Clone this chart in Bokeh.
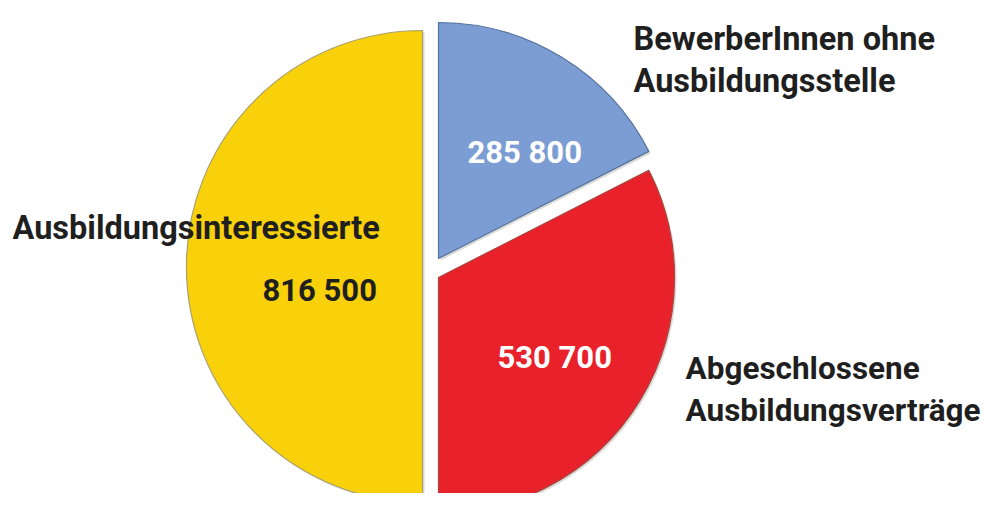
import math
from bokeh.plotting import figure
from bokeh.models import Range1d
from bokeh.core.properties import value
from bokeh.embed import file_html
from bokeh.resources import INLINE

# ---- data ----
categories = ["BewerberInnen ohne Ausbildungsstelle",
              "Abgeschlossene Ausbildungsverträge",
              "Ausbildungsinteressierte"]
values = [285800, 530700, 816500]
colors = ["#7B9DD3", "#E8212B", "#F8D10B"]
edge_colors = ["#55739f", "#a8453f", "#a9a070"]

# ---- geometry (reference pixel space, y up) ----
W, H = 985, 493
H_REF = 509
def Y(ref_y):
    return H_REF - ref_y

R = 236
centers = [(438, Y(258)), (438, Y(277)), (422, Y(266))]

total = sum(values)
angles = []
a = math.pi / 2
for v in values:
    span = 2 * math.pi * v / total
    angles.append((a - span, a))
    a -= span

p = figure(width=W, height=H, output_backend="svg", toolbar_location=None,
           x_range=Range1d(0, W), y_range=Range1d(H_REF - H, H_REF),
           min_border=0)
p.axis.visible = False
p.grid.visible = False
p.outline_line_color = None
p.background_fill_color = "white"
p.border_fill_color = "white"

for (cx, cy), (s, e), col, ec in zip(centers, angles, colors, edge_colors):
    p.wedge(x=[cx + 2], y=[cy - 2], radius=R, start_angle=s, end_angle=e,
            fill_color="#b0b0a8", fill_alpha=0.45, line_color=None)
    p.wedge(x=[cx], y=[cy], radius=R, start_angle=s, end_angle=e,
            fill_color=col, line_color=ec, line_width=1.2)

def fmt(v):
    return f"{v:,}".replace(",", " ")

FONT = value("Roboto")

# category labels (left x, baseline y in reference pixels, font size)
label_lines = [["BewerberInnen ohne", "Ausbildungsstelle"],
               ["Abgeschlossene", "Ausbildungsverträge"],
               ["Ausbildungsinteressierte"]]
label_pos = [(633, [38, 80], "32.5px"), (685, [368, 410], "31.5px"), (12, [227], "32.5px")]
for lines, (lx, bys, fs) in zip(label_lines, label_pos):
    for t, by in zip(lines, bys):
        p.text(x=[lx], y=[Y(by)], text=[t], text_font=FONT, text_font_size=fs,
               text_font_style="bold", text_color="#1f1f1f",
               text_baseline="alphabetic", text_align="left")

# value labels
val_pos = [(467, 152), (497, 357), (262, 290)]
val_colors = ["white", "white", "#1f1f1f"]
for v, (vx, vy), vc in zip(values, val_pos, val_colors):
    p.text(x=[vx], y=[Y(vy)], text=[fmt(v)], text_font=FONT, text_font_size="31px",
           text_font_style="bold", text_color=vc,
           text_baseline="alphabetic", text_align="left")

open("out.html", "w").write(file_html(p, INLINE))
